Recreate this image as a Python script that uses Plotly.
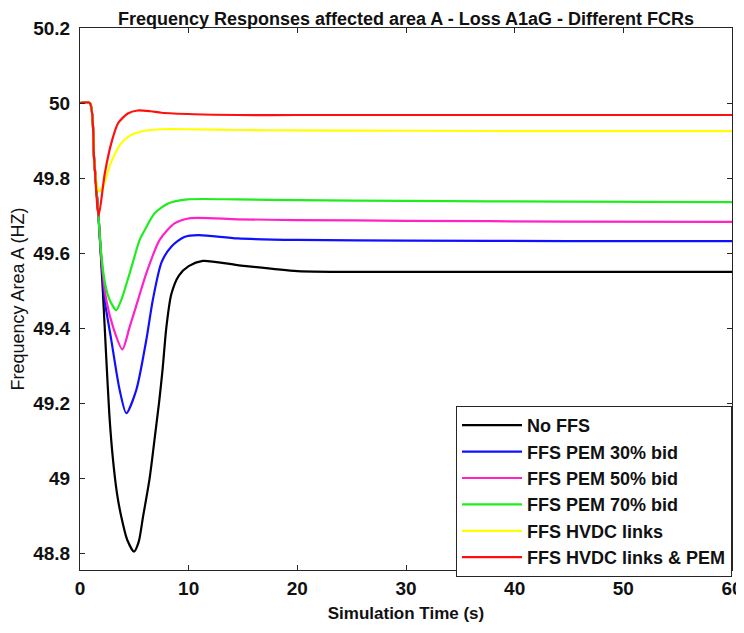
import plotly.graph_objects as go

# ---------------- data ----------------
names = ["No FFS", "FFS PEM 30% bid", "FFS PEM 50% bid", "FFS PEM 70% bid",
         "FFS HVDC links", "FFS HVDC links & PEM"]
colors = ["#000000", "#1010FF", "#FF22C4", "#1EEE1E", "#FFFF00", "#FF1010"]

t_black = [0, 0.9, 1.3, 1.72, 2.1, 2.4, 2.7, 3.0, 3.4, 3.8, 4.35, 4.97, 5.4, 5.8,
           6.41, 6.93, 7.27, 7.6, 7.94, 8.4, 9.1, 10.0, 11.3, 14.5, 20, 30, 45, 60]
f_black = [50.0, 50.0, 49.85, 49.69, 49.50, 49.33, 49.17, 49.06, 48.96, 48.897, 48.835,
           48.804, 48.83, 48.897, 49.0, 49.12, 49.2, 49.29, 49.40, 49.49, 49.54, 49.565,
           49.579, 49.568, 49.552, 49.55, 49.55, 49.55]

t_blue = [0, 0.9, 1.3, 1.72, 1.95, 2.27, 2.88, 3.65, 4.26, 5.18, 6.1, 6.7, 7.5, 8.4,
          9.6, 10.9, 14.5, 20, 30, 45, 60]
f_blue = [50.0, 50.0, 49.85, 49.69, 49.59, 49.475, 49.368, 49.235, 49.173, 49.235,
          49.368, 49.475, 49.575, 49.617, 49.643, 49.648, 49.639, 49.635, 49.633,
          49.632, 49.632]

t_mag = [0, 0.9, 1.3, 1.72, 1.95, 2.42, 3.04, 3.9, 4.57, 5.34, 6.1, 7.33, 8.7, 10.2,
         14.5, 20, 30, 45, 60]
f_mag = [50.0, 50.0, 49.85, 49.69, 49.59, 49.475, 49.403, 49.343, 49.403, 49.475,
         49.546, 49.635, 49.679, 49.693, 49.69, 49.688, 49.686, 49.684, 49.683]

t_green = [0, 0.9, 1.3, 1.72, 1.95, 2.3, 2.73, 3.34, 3.8, 4.57, 5.49, 5.95, 6.87,
           8.1, 9.9, 14.5, 20, 30, 45, 60]
f_green = [50.0, 50.0, 49.85, 49.69, 49.60, 49.52, 49.475, 49.448, 49.475, 49.546,
           49.635, 49.661, 49.706, 49.732, 49.743, 49.743, 49.741, 49.739, 49.737, 49.736]

t_yellow = [0, 0.9, 1.3, 1.5, 1.75, 2.1, 2.5, 2.88, 3.8, 4.72, 5.95, 7.5, 10, 14.5,
            20, 30, 45, 60]
f_yellow = [50.0, 50.0, 49.85, 49.79, 49.765, 49.775, 49.81, 49.843, 49.893, 49.915,
            49.926, 49.93, 49.93, 49.928, 49.927, 49.926, 49.925, 49.925]

t_red = [0, 0.9, 1.3, 1.72, 2.27, 2.88, 3.5, 4.4, 5.3, 6.5, 7.5, 10.5, 14.5, 20, 30,
         45, 60]
f_red = [50.0, 50.0, 49.85, 49.70, 49.81, 49.893, 49.946, 49.972, 49.98, 49.978,
         49.974, 49.970, 49.968, 49.968, 49.968, 49.968, 49.968]

x_ticks = [0, 10, 20, 30, 40, 50, 60]
y_ticks = [48.8, 49.0, 49.2, 49.4, 49.6, 49.8, 50.0, 50.2]
y_tick_labels = ["48.8", "49", "49.2", "49.4", "49.6", "49.8", "50", "50.2"]

series_t = [t_black, t_blue, t_mag, t_green, t_yellow, t_red]
series_f = [f_black, f_blue, f_mag, f_green, f_yellow, f_red]

FONT = "Liberation Sans, Arial, sans-serif"
AX = "#262626"
TXT = "#111111"

# the page body has an 8px default margin, so the figure is 8px smaller
W, H = 736, 625

fig = go.Figure()
for name, col, tt, ff in zip(names, colors, series_t, series_f):
    fig.add_trace(go.Scatter(x=tt, y=ff, mode="lines", name=name,
                             line=dict(color=col, width=2.2, shape="spline", smoothing=0.7)))

fig.update_layout(
    width=W, height=H,
    margin=dict(l=72, r=12, t=20, b=63),
    paper_bgcolor="white", plot_bgcolor="white",
    font=dict(family=FONT, color=TXT),
    title=dict(text="<b>Frequency Responses affected area A - Loss A1aG - Different FCRs</b>",
               x=0.5, xref="paper", xanchor="center",
               y=1 - 11 / H, yref="container", yanchor="middle",
               font=dict(size=18, family=FONT, color=TXT)),
    showlegend=True,
    legend=dict(x=1, xanchor="right", y=0.3026, yanchor="top",
                bgcolor="white", bordercolor=AX, borderwidth=1,
                font=dict(size=18, family=FONT, color=TXT, weight="bold"),
                tracegroupgap=0, itemwidth=60),
)
fig.update_xaxes(range=[0, 60], tickvals=x_ticks, ticks="inside", ticklen=5,
                 tickcolor=AX, showline=True, linecolor=AX, linewidth=1, mirror="ticks",
                 showgrid=False, zeroline=False, ticklabelstandoff=1, automargin=False,
                 tickfont=dict(size=19, family=FONT, weight="bold", color=TXT),
                 title=dict(text="<b>Simulation Time (s)</b>", standoff=9,
                            font=dict(size=17, family=FONT, color=TXT)))
fig.update_yaxes(range=[48.755, 50.2], tickvals=y_ticks, ticktext=y_tick_labels,
                 ticks="inside", ticklen=5, tickcolor=AX, showline=True, linecolor=AX,
                 linewidth=1, mirror="ticks", showgrid=False, zeroline=False,
                 ticklabelstandoff=5, automargin=False,
                 tickfont=dict(size=19, family=FONT, weight="bold", color=TXT),
                 title=dict(text="Frequency Area A (HZ)", standoff=5,
                            font=dict(size=18, family=FONT, color=TXT)))

fig.write_html("out.html")
